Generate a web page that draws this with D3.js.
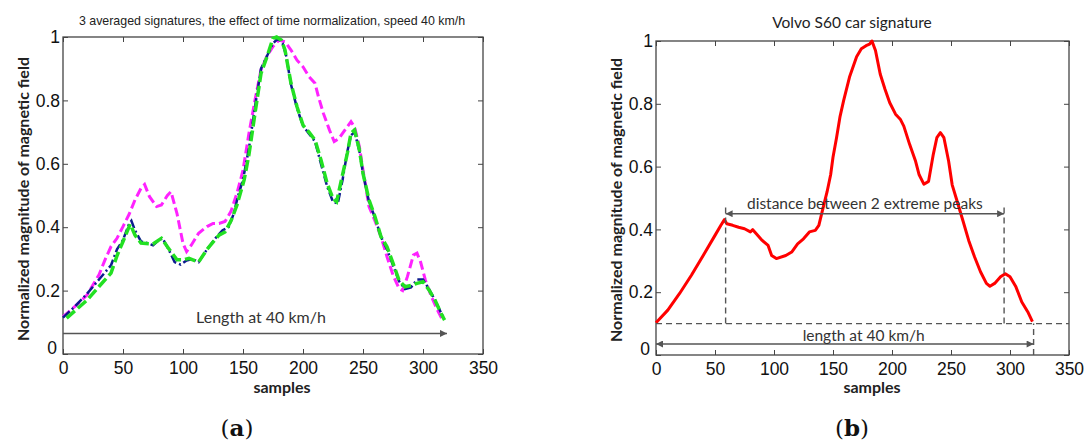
<!DOCTYPE html>
<html><head><meta charset="utf-8">
<script src="https://cdn.jsdelivr.net/npm/d3@7"></script>
<style>body{margin:0;background:#fff}svg{display:block}</style>
</head><body>
<svg id="c" width="1087" height="442"></svg>
<script>
// ---------- data ----------
const xTicks = [0,50,100,150,200,250,300,350];
const yTicks = [0,0.2,0.4,0.6,0.8,1];
const yTickLabels = ["0","0.2","0.4","0.6","0.8","1"];

const magentaX = [0,10,20,30,35,40,45,50,55,60,65,68,72,78,82,87,90,95,100,103,107,113,120,125,130,135,140,145,148,150,155,160,165,170,175,180,185,190,195,200,205,210,213,217,222,226,230,235,240,243,247,250,255,260,265,270,275,280,283,287,292,295,298,302,307,312,317];
const magentaY = [0.118,0.15,0.186,0.25,0.297,0.339,0.365,0.402,0.44,0.486,0.523,0.535,0.497,0.465,0.47,0.5,0.512,0.443,0.349,0.323,0.344,0.381,0.402,0.412,0.412,0.418,0.45,0.508,0.55,0.58,0.697,0.801,0.896,0.94,0.97,0.99,0.985,0.959,0.927,0.906,0.875,0.854,0.81,0.759,0.707,0.67,0.68,0.707,0.733,0.716,0.654,0.58,0.465,0.42,0.37,0.307,0.249,0.207,0.2,0.244,0.312,0.318,0.29,0.233,0.181,0.139,0.102];

const blueX = [0,10,20,30,40,45,50,55,57,60,65,70,75,80,83,88,93,98,103,108,113,120,128,133,138,142,146,150,155,160,165,170,175,179,183,186,190,195,200,205,210,215,220,225,229,233,237,240,243,247,250,255,260,265,270,275,280,285,290,295,300,305,310,315,318];
const blueY = [0.115,0.15,0.19,0.235,0.28,0.33,0.36,0.41,0.42,0.39,0.355,0.35,0.343,0.36,0.365,0.33,0.29,0.282,0.295,0.3,0.29,0.33,0.37,0.39,0.4,0.44,0.5,0.55,0.65,0.78,0.9,0.94,0.98,0.995,0.98,0.94,0.85,0.775,0.72,0.695,0.67,0.6,0.53,0.48,0.475,0.55,0.64,0.69,0.7,0.64,0.57,0.48,0.43,0.37,0.33,0.28,0.23,0.205,0.21,0.235,0.235,0.205,0.17,0.13,0.11];

const greenX = [3,20,30,40,45,50,56,60,65,75,82,88,95,100,105,113,120,130,135,140,145,148,151,155,160,165,170,175,178,182,185,190,195,200,205,210,215,220,225,228,232,237,240,243,247,250,255,260,265,270,275,280,285,290,295,300,305,310,315,318];
const greenY = [0.113,0.17,0.213,0.255,0.31,0.355,0.41,0.375,0.35,0.347,0.365,0.333,0.297,0.297,0.302,0.29,0.33,0.375,0.385,0.42,0.47,0.51,0.55,0.63,0.759,0.885,0.938,0.996,1.0,0.99,0.959,0.854,0.78,0.722,0.7,0.675,0.612,0.54,0.49,0.48,0.549,0.634,0.697,0.707,0.644,0.57,0.486,0.433,0.37,0.338,0.287,0.233,0.212,0.216,0.223,0.228,0.202,0.17,0.128,0.107];

const redX = [0,10,20,30,40,50,55,58,60,65,70,75,80,82,85,90,95,98,102,110,115,120,125,130,135,138,140,143,145,148,150,153,156,159,164,170,174,178,181,183,186,190,194,198,203,207,210,215,220,223,227,231,235,238,241,244,248,251,255,260,265,270,275,280,283,287,292,296,300,305,310,315,319];
const redY = [0.103,0.143,0.196,0.254,0.317,0.381,0.413,0.431,0.418,0.413,0.407,0.402,0.392,0.399,0.386,0.365,0.349,0.317,0.307,0.317,0.328,0.354,0.37,0.392,0.397,0.413,0.444,0.49,0.52,0.574,0.63,0.692,0.76,0.81,0.885,0.95,0.975,0.985,0.99,1.0,0.97,0.895,0.847,0.804,0.767,0.751,0.729,0.67,0.617,0.574,0.544,0.553,0.639,0.692,0.708,0.692,0.617,0.542,0.492,0.429,0.365,0.312,0.265,0.228,0.219,0.228,0.249,0.259,0.249,0.217,0.169,0.138,0.106];

// annotation values (data units)
const leftLengthArrow = {x0:0, x1:320, y:0.065, label:"Length at 40 km/h"};
const peaksX = [59, 295];
const peaksArrowY = 0.45, peaksTopY = 0.48, baseY = 0.1, lengthEndX = 320, rightLengthY = 0.035;

// ---------- drawing ----------
const svg = d3.select("#c");
const defs = svg.append("defs");
["start","end"].forEach(k=>{
  defs.append("marker").attr("id","ar-"+k).attr("viewBox","0 0 10 10")
    .attr("refX", k==="end"?10:0).attr("refY",5).attr("markerWidth",10).attr("markerHeight",7)
    .attr("markerUnits","userSpaceOnUse").attr("orient","auto")
    .append("path").attr("d", k==="end"?"M0,0L10,5L0,10Z":"M10,0L0,5L10,10Z").attr("fill","#555");
});

function panel(L, R, T, B){
  const x = d3.scaleLinear().domain([0,350]).range([L,R]);
  const y = d3.scaleLinear().domain([0,1]).range([B,T]);
  const g = svg.append("g");
  g.append("rect").attr("x",L).attr("y",T).attr("width",R-L).attr("height",B-T)
    .attr("fill","none").attr("stroke","#444").attr("stroke-width",1.3);
  const ax = (gen, tr) => g.append("g").attr("transform",tr).call(gen)
    .call(s=>{s.select(".domain").remove(); s.selectAll("line").attr("stroke","#444");});
  const bottom = ax(d3.axisBottom(x).tickValues(xTicks).tickSize(-5).tickPadding(8), `translate(0,${B})`);
  bottom.selectAll("text").attr("font-family","Liberation Sans, Arial").attr("font-size",17.5).attr("fill","#111");
  ax(d3.axisTop(x).tickValues(xTicks).tickSize(-5).tickFormat(""), `translate(0,${T})`);
  const left = ax(d3.axisLeft(y).tickValues(yTicks).tickSize(-5).tickPadding(3).tickFormat((d,i)=>yTickLabels[i]), `translate(${L},0)`);
  left.selectAll("text").attr("font-family","Liberation Sans, Arial").attr("font-size",17.5).attr("fill","#111")
    .attr("dy",(d)=> d===0 ? "-0.05em" : "0.32em").attr("dx",(d)=> d===0 ? -3 : 0);
  ax(d3.axisRight(y).tickValues(yTicks).tickSize(-5).tickFormat(""), `translate(${R},0)`);
  return {x,y,g};
}

function line(p, xs, ys){ return d3.line().x((d,i)=>p.x(xs[i])).y((d,i)=>p.y(ys[i]))(xs); }

// ---- left panel (a) ----
const A = panel(63, 483, 37, 354);
A.g.append("path").attr("d",line(A,magentaX,magentaY)).attr("fill","none").attr("stroke","#ff22ff")
  .attr("stroke-width",3).attr("stroke-dasharray","9,4");
A.g.append("path").attr("d",line(A,blueX,blueY)).attr("fill","none").attr("stroke","#0d1b8f")
  .attr("stroke-width",2.5).attr("stroke-dasharray","9,3,2,3");
A.g.append("path").attr("d",line(A,greenX,greenY)).attr("fill","none").attr("stroke","#22e022")
  .attr("stroke-width",3.5).attr("stroke-dasharray","11,4");
A.g.append("line").attr("x1",A.x(leftLengthArrow.x0)).attr("x2",A.x(leftLengthArrow.x1))
  .attr("y1",A.y(leftLengthArrow.y)).attr("y2",A.y(leftLengthArrow.y))
  .attr("stroke","#555").attr("stroke-width",1.5).attr("marker-end","url(#ar-end)");
A.g.append("text").attr("x",A.x(165)).attr("y",A.y(leftLengthArrow.y)-10).attr("text-anchor","middle")
  .attr("font-family","Lato, Open Sans").attr("font-size",16).attr("fill","#333").text(leftLengthArrow.label);
svg.append("text").attr("x",272).attr("y",25).attr("text-anchor","middle")
  .attr("font-family","Liberation Sans, Arial").attr("font-size",12.4).attr("fill","#222")
  .text("3 averaged signatures, the effect of time normalization, speed 40 km/h");
svg.append("text").attr("x",282).attr("y",393).attr("text-anchor","middle")
  .attr("font-family","Lato").attr("font-weight","bold").attr("font-size",16).attr("fill","#222").text("samples");
svg.append("text").attr("transform","translate(29,199) rotate(-90)").attr("text-anchor","middle")
  .attr("font-family","Lato").attr("font-weight","bold").attr("font-size",16).attr("fill","#222")
  .text("Normalized magnitude of magnetic field");
const la = svg.append("text").attr("x",237).attr("y",436).attr("text-anchor","middle")
  .attr("font-family","DejaVu Serif, Liberation Serif").attr("font-size",23).attr("fill","#111");
la.append("tspan").text("(");la.append("tspan").attr("font-weight","bold").text("a");la.append("tspan").text(")");

// ---- right panel (b) ----
const Bp = panel(656, 1069, 41, 355);
Bp.g.append("path").attr("d",line(Bp,redX,redY)).attr("fill","none").attr("stroke","#ff0000")
  .attr("stroke-width",3).attr("stroke-linejoin","round");
const dash = s => s.attr("stroke","#555").attr("stroke-width",1.4).attr("stroke-dasharray","6,4");
Bp.g.append("line").attr("x1",Bp.x(0)).attr("x2",Bp.x(350)).attr("y1",Bp.y(baseY)).attr("y2",Bp.y(baseY)).call(dash);
peaksX.forEach(px=> Bp.g.append("line").attr("x1",Bp.x(px)).attr("x2",Bp.x(px)).attr("y1",Bp.y(baseY)).attr("y2",Bp.y(peaksTopY)).call(dash));
Bp.g.append("line").attr("x1",Bp.x(lengthEndX)).attr("x2",Bp.x(lengthEndX)).attr("y1",Bp.y(0)).attr("y2",Bp.y(baseY)).call(dash);
Bp.g.append("line").attr("x1",Bp.x(peaksX[0])).attr("x2",Bp.x(peaksX[1])).attr("y1",Bp.y(peaksArrowY)).attr("y2",Bp.y(peaksArrowY))
  .attr("stroke","#555").attr("stroke-width",1.5).attr("marker-start","url(#ar-start)").attr("marker-end","url(#ar-end)");
Bp.g.append("line").attr("x1",Bp.x(0)).attr("x2",Bp.x(lengthEndX)).attr("y1",Bp.y(rightLengthY)).attr("y2",Bp.y(rightLengthY))
  .attr("stroke","#555").attr("stroke-width",1.5).attr("marker-start","url(#ar-start)").attr("marker-end","url(#ar-end)");
Bp.g.append("text").attr("x",Bp.x(177)).attr("y",Bp.y(peaksArrowY)-5).attr("text-anchor","middle")
  .attr("font-family","Lato").attr("font-size",15.5).attr("fill","#333").text("distance between 2 extreme peaks");
Bp.g.append("text").attr("x",Bp.x(176)).attr("y",Bp.y(rightLengthY)-3).attr("text-anchor","middle")
  .attr("font-family","Lato").attr("font-size",15.5).attr("fill","#333").text("length at 40 km/h");
svg.append("text").attr("x",852).attr("y",28).attr("text-anchor","middle")
  .attr("font-family","Lato").attr("font-size",15.5).attr("fill","#222").text("Volvo S60 car signature");
svg.append("text").attr("x",872).attr("y",393).attr("text-anchor","middle")
  .attr("font-family","Lato").attr("font-weight","bold").attr("font-size",16).attr("fill","#222").text("samples");
svg.append("text").attr("transform","translate(622,200) rotate(-90)").attr("text-anchor","middle")
  .attr("font-family","Lato").attr("font-weight","bold").attr("font-size",16).attr("fill","#222")
  .text("Normalized magnitude of magnetic field");
const lb = svg.append("text").attr("x",852).attr("y",436).attr("text-anchor","middle")
  .attr("font-family","DejaVu Serif, Liberation Serif").attr("font-size",23).attr("fill","#111");
lb.append("tspan").text("(");lb.append("tspan").attr("font-weight","bold").text("b");lb.append("tspan").text(")");
</script>
</body></html>
